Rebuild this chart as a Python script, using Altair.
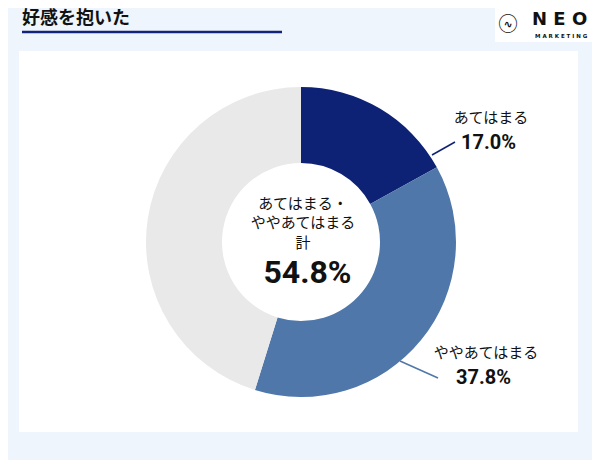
import altair as alt
import pandas as pd

categories = ["あてはまる", "ややあてはまる", "その他"]
values = [17.0, 37.8, 45.2]
colors = ["#0e2275", "#4f77a9", "#e9e9e9"]
label_texts = ["あてはまる", "ややあてはまる"]
label_values = ["17.0%", "37.8%"]
center_lines = ["あてはまる・", "ややあてはまる", "計"]
center_total = "54.8%"
title_text = "好感を抱いた"

W, H = 584, 452
OX, OY = 8, 8  # page margin offset

df = pd.DataFrame({"cat": categories, "value": values, "idx": list(range(len(values)))})

JP = "Noto Sans CJK JP"
NUM = "Roboto"

cx, cy = 301 - OX, 242 - OY

base = alt.Chart(pd.DataFrame({"d": [0]}))

panel = base.mark_rect(color="white").encode(
    x=alt.value(19 - OX), x2=alt.value(578 - OX),
    y=alt.value(51 - OY), y2=alt.value(432 - OY))

title = base.mark_text(text=title_text, font=JP, fontSize=18, fontWeight="bold",
                       align="left", baseline="middle", color="#111111").encode(
    x=alt.value(22 - OX), y=alt.value(18.5 - OY))
underline = base.mark_rule(color="#14237a", strokeWidth=2.5).encode(
    x=alt.value(22 - OX), x2=alt.value(282 - OX), y=alt.value(32 - OY))

logo_box = base.mark_rect(color="white").encode(
    x=alt.value(495 - OX), x2=alt.value(592 - OX),
    y=alt.value(0), y2=alt.value(42 - OY))
logo_circle = base.mark_text(text="◯", font=JP, fontSize=19, fontWeight="bold",
                             color="#111111", align="center", baseline="middle").encode(
    x=alt.value(508 - OX), y=alt.value(25 - OY))
logo_wave = base.mark_text(text="∿", font="DejaVu Sans", fontSize=11, fontWeight="bold",
                           color="#111111", align="center", baseline="middle").encode(
    x=alt.value(508 - OX), y=alt.value(25 - OY))
logo_neo = base.mark_text(text="N E O", font="DejaVu Sans", fontSize=18, fontWeight="bold",
                          color="#111111", align="left", baseline="middle").encode(
    x=alt.value(532 - OX), y=alt.value(20 - OY))
logo_mkt = base.mark_text(text="M A R K E T I N G", font="DejaVu Sans", fontSize=5.5, fontWeight="bold",
                          color="#111111", align="left", baseline="middle").encode(
    x=alt.value(535 - OX), y=alt.value(35.5 - OY))

donut = alt.Chart(df).mark_arc(outerRadius=155, innerRadius=79).encode(
    theta=alt.Theta("value:Q", stack=True),
    color=alt.Color("cat:N", scale=alt.Scale(domain=categories, range=colors), legend=None),
    order=alt.Order("idx:Q"),
    x=alt.value(cx), y=alt.value(cy))

center_df = pd.DataFrame({"t": center_lines, "y": [204, 223, 242.5]})
center_text = alt.Chart(center_df).mark_text(font=JP, fontSize=15, color="#111111",
                                             align="center", baseline="middle").encode(
    text="t:N", x=alt.value(303 - OX),
    y=alt.Y("y:Q", scale=alt.Scale(domain=[OY, OY + H], range=[0, H]), axis=None))
center_num = base.mark_text(text=center_total, font=NUM, fontSize=32, fontWeight="bold",
                            color="#111111", align="center", baseline="middle").encode(
    x=alt.value(307.5 - OX), y=alt.value(273 - OY))

lab1 = base.mark_text(text=label_texts[0], font=JP, fontSize=15, color="#111111",
                      align="center", baseline="middle").encode(
    x=alt.value(491 - OX), y=alt.value(117.5 - OY))
val1 = base.mark_text(text=label_values[0], font=NUM, fontSize=20, fontWeight="bold",
                      color="#111111", align="center", baseline="middle").encode(
    x=alt.value(488.5 - OX), y=alt.value(143 - OY))
lab2 = base.mark_text(text=label_texts[1], font=JP, fontSize=15, color="#111111",
                      align="center", baseline="middle").encode(
    x=alt.value(486 - OX), y=alt.value(353 - OY))
val2 = base.mark_text(text=label_values[1], font=NUM, fontSize=20, fontWeight="bold",
                      color="#111111", align="center", baseline="middle").encode(
    x=alt.value(483.5 - OX), y=alt.value(377.5 - OY))

line1 = base.mark_rule(color=colors[0], strokeWidth=1.5).encode(
    x=alt.value(432 - OX), y=alt.value(155 - OY), x2=alt.value(455 - OX), y2=alt.value(142 - OY))
line2 = base.mark_rule(color=colors[1], strokeWidth=1.5).encode(
    x=alt.value(400 - OX), y=alt.value(361 - OY), x2=alt.value(438 - OX), y2=alt.value(378 - OY))

chart = alt.layer(
    panel, title, underline, logo_box, logo_circle, logo_wave, logo_neo, logo_mkt,
    donut, center_text, center_num, lab1, val1, lab2, val2, line1, line2
).properties(
    width=W, height=H, background="#eef5fd", padding=0,
    autosize=alt.AutoSizeParams(type="none")
).configure_view(stroke=None)

chart.save("out.html", embed_options={"renderer": "svg", "actions": False})
